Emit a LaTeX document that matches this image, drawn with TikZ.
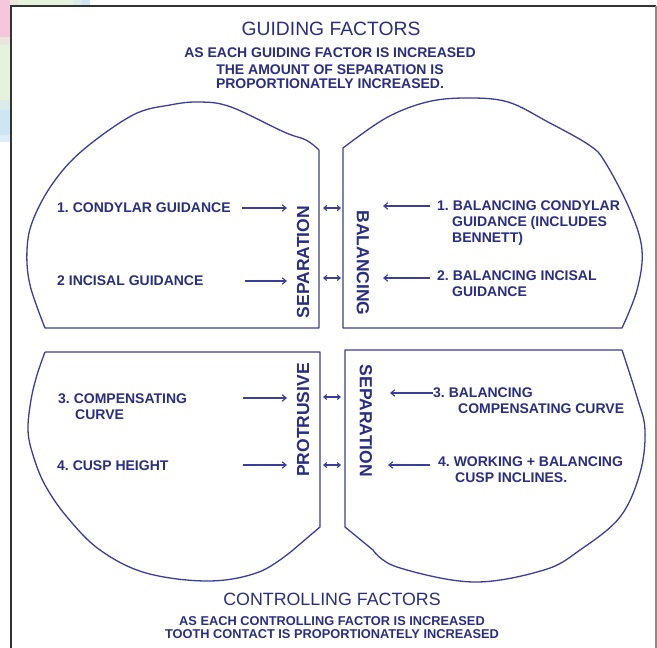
\documentclass[tikz,border=0pt]{standalone}
\usepackage{fontspec}
\setmainfont{Liberation Sans}
\usetikzlibrary{arrows.meta}
\definecolor{ink}{RGB}{58,62,150}
\definecolor{txt}{RGB}{42,46,128}
\definecolor{pinkp}{RGB}{246,198,220}
\definecolor{beigep}{RGB}{234,230,220}
\definecolor{greenp}{RGB}{229,242,220}
\definecolor{tealp}{RGB}{218,236,232}
\definecolor{bluep}{RGB}{206,229,244}
\definecolor{bluel}{RGB}{222,236,248}
\begin{document}
\begin{tikzpicture}[x=1pt,y=-1pt,
  outline/.style={draw=ink, line width=1.3pt, line join=round},
  arr/.style={draw=ink, line width=1.1pt, -{Straight Barb[length=4pt,width=6.5pt]}},
  darr/.style={draw=ink, line width=1.1pt, {Straight Barb[length=3pt,width=5pt]}-{Straight Barb[length=3pt,width=5pt]}},
  lbl/.style={text=txt, inner sep=0pt, anchor=north west, align=left, font=\fontsize{14}{16}\selectfont\bfseries},
  vlbl/.style={text=txt, inner sep=0pt, font=\fontsize{17.5}{20}\selectfont\bfseries},
  ttl/.style={text=txt, inner sep=0pt, anchor=base, font=\fontsize{19.3}{22}\selectfont},
  sub/.style={text=txt, inner sep=0pt, anchor=base, font=\fontsize{14}{16}\selectfont\bfseries},
  bsub/.style={text=txt, inner sep=0pt, anchor=base, font=\fontsize{12.8}{15}\selectfont\bfseries}]
\useasboundingbox (0,0) rectangle (657,648);
\fill[white] (0,0) rectangle (657,648);
% background patches outside the frame
\fill[pinkp] (0,0) rectangle (10,37);
\fill[beigep] (0,37) rectangle (10,45);
\fill[greenp] (0,45) rectangle (10,100);
\fill[tealp] (0,100) rectangle (10,110);
\fill[bluep] (0,110) rectangle (10,135);
\fill[bluel] (0,135) rectangle (10,142);
\fill[beigep] (10,0) rectangle (18,6);
\fill[greenp] (18,0) rectangle (73,6);
\fill[tealp] (73,0) rectangle (82,6);
\fill[bluep] (82,0) rectangle (90,6);
% frame
\draw[line width=1.2pt, draw=black!80] (11,652) -- (11,6) -- (656,6);
\draw[line width=1.2pt, draw=black!45] (656,6) -- (656,652);

% titles
\node[ttl] (gt) at (331,35.4) {GUIDING FACTORS};
\node[sub] (gs1) at (330,57) {AS EACH GUIDING FACTOR IS INCREASED};
\node[sub] (gs2) at (330,74) {THE AMOUNT OF SEPARATION IS};
\node[sub] (gs3) at (330,88.5) {PROPORTIONATELY INCREASED.};
\node[ttl, font=\fontsize{17.8}{20}\selectfont] (ct) at (332,605.5) {CONTROLLING FACTORS};
\node[bsub] (cs1) at (332,625.5) {AS EACH CONTROLLING FACTOR IS INCREASED};
\node[bsub] (cs2) at (332,638.6) {TOOTH CONTACT IS PROPORTIONATELY INCREASED};

% quadrant outlines
\draw[outline] (319,150) -- (319,328) -- (45,328) -- plot[smooth, tension=0.6] coordinates
  {(45,328) (30,285) (27,250) (33,220) (53,183) (83,150) (133,115) (170,105) (200,102) (231,107) (284,132) (306,140) (319,150)};
\draw[outline] (343,328) -- (343,148) -- plot[smooth, tension=0.6] coordinates
  {(343,148) (386,118) (427,102) (467,98) (508,102) (548,122) (589,145) (605,162) (630,210) (642,250) (637,290) (622,328)} -- cycle;
\draw[outline] (45,352) -- (320,352) -- (320,527) -- (293,550) -- plot[smooth, tension=0.6] coordinates
  {(293,550) (259,572) (209,581) (146,573) (100,550) (67,517) (45,485) (33,455) (28,430) (31,400) (37,375) (45,352)};
\draw[outline] (622,350) -- (345,350) -- (345,527) -- (373,550) -- plot[smooth, tension=0.6] coordinates
  {(373,550) (397,567) (473,582) (544,570) (580,550) (620,517) (640,473) (645,430) (637,397) (622,350)};

% rotated labels
\node[vlbl, rotate=90] (sep1) at (303,262) {SEPARATION};
\node[vlbl, rotate=-90] (bal) at (363,263) {BALANCING};
\node[vlbl, rotate=90] (pro) at (303,420) {PROTRUSIVE};
\node[vlbl, rotate=-90] (sep2) at (366,421) {SEPARATION};

% labels, left
\node[lbl] (l1) at (57,203) {1.~CONDYLAR GUIDANCE};
\node[lbl] (l2) at (57,276) {2 INCISAL GUIDANCE};
\node[lbl] (l3) at (58,394) {3.~COMPENSATING\\\hspace*{17pt}CURVE};
\node[lbl] (l4) at (57,461) {4.~CUSP HEIGHT};
% labels, right
\node[lbl] (r1) at (437,201) {1.~BALANCING CONDYLAR\\\hspace*{15pt}GUIDANCE (INCLUDES\\\hspace*{15pt}BENNETT)};
\node[lbl] (r2) at (437,271) {2.~BALANCING INCISAL\\\hspace*{15pt}GUIDANCE};
\node[lbl] (r3) at (433,388) {3.~BALANCING\\\hspace*{25pt}COMPENSATING CURVE};
\node[lbl] (r4) at (438,457) {4.~WORKING + BALANCING\\\hspace*{17pt}CUSP INCLINES.};

% arrow end points
\coordinate (a1s) at (242,208); \coordinate (a1e) at (287,208);
\coordinate (a2s) at (245,281); \coordinate (a2e) at (287,281);
\coordinate (a3s) at (243,398); \coordinate (a3e) at (287,398);
\coordinate (a4s) at (243,465); \coordinate (a4e) at (287,465);
\coordinate (b1s) at (430,206); \coordinate (b1e) at (383,206);
\coordinate (b2s) at (430,278); \coordinate (b2e) at (383,278);
\coordinate (b3s) at (433,393); \coordinate (b3e) at (390,393);
\coordinate (b4s) at (430,465); \coordinate (b4e) at (388,465);
\coordinate (d1s) at (323,208); \coordinate (d1e) at (341,208);
\coordinate (d2s) at (323,278); \coordinate (d2e) at (341,278);
\coordinate (d3s) at (323,397); \coordinate (d3e) at (341,397);
\coordinate (d4s) at (323,465); \coordinate (d4e) at (341,465);

\draw[arr] (a1s) -- (a1e);
\draw[arr] (a2s) -- (a2e);
\draw[arr] (a3s) -- (a3e);
\draw[arr] (a4s) -- (a4e);
\draw[arr] (b1s) -- (b1e);
\draw[arr] (b2s) -- (b2e);
\draw[arr] (b3s) -- (b3e);
\draw[arr] (b4s) -- (b4e);
\draw[darr] (d1s) -- (d1e);
\draw[darr] (d2s) -- (d2e);
\draw[darr] (d3s) -- (d3e);
\draw[darr] (d4s) -- (d4e);
\end{tikzpicture}
\end{document}
